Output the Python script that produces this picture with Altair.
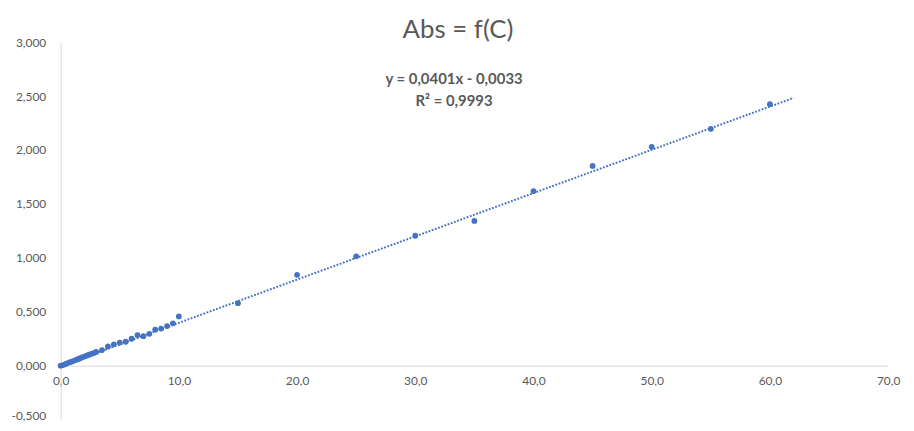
import altair as alt
import pandas as pd

# Concentration (x) and absorbance (y)
CONC = [0.0, 0.2, 0.4, 0.6, 0.8, 1.0, 1.2, 1.4, 1.6, 1.8, 2.0, 2.2, 2.4, 2.6, 2.8,
        3.0, 3.5, 4.0, 4.5, 5.0, 5.5, 6.0, 6.5, 7.0, 7.5, 8.0, 8.5, 9.0, 9.5, 10.0,
        15.0, 20.0, 25.0, 30.0, 35.0, 40.0, 45.0, 50.0, 55.0, 60.0]
ABS = [0.000, 0.006, 0.015, 0.024, 0.033, 0.041, 0.050, 0.058, 0.067, 0.076,
       0.085, 0.093, 0.102, 0.110, 0.117, 0.128, 0.145, 0.178, 0.198, 0.215,
       0.222, 0.250, 0.284, 0.274, 0.296, 0.334, 0.344, 0.368, 0.393, 0.457,
       0.580, 0.843, 1.014, 1.205, 1.342, 1.619, 1.852, 2.030, 2.196, 2.425]

# Linear trendline end points (y = 0,0401x - 0,0033), drawn from 0 to 62
TREND_X = [0.0, 62.0]
TREND_Y = [-0.0033, 2.4829]

X_TICKS = [0, 10, 20, 30, 40, 50, 60, 70]
Y_TICKS = [-0.5, 0.0, 0.5, 1.0, 1.5, 2.0, 2.5, 3.0]

TITLE = "Abs = f(C)"
EQ_LINE1 = "y = 0,0401x - 0,0033"
EQ_LINE2 = "R² = 0,9993"

BLUE = "#4472C4"
GREY_TXT = "#595959"
GREY_LINE = "#d9d9d9"
FONT = "Lato"

pts = pd.DataFrame({"C": CONC, "Abs": ABS})
trend = pd.DataFrame({"C": TREND_X, "Abs": TREND_Y})

x_enc = alt.X(
    "C:Q",
    scale=alt.Scale(domain=[0, 70], nice=False, zero=False),
    axis=alt.Axis(
        values=X_TICKS, title=None, grid=False, ticks=False,
        domainColor=GREY_LINE, domainWidth=1, offset=-54.29,
        labelExpr="replace(format(datum.value, '.1f'), '.', ',')",
        labelColor=GREY_TXT, labelFont=FONT, labelFontSize=12,
        labelPadding=10, labelFlush=False, labelOverlap=False,
    ),
)
y_enc = alt.Y(
    "Abs:Q",
    scale=alt.Scale(domain=[-0.5, 3.0], nice=False, zero=False),
    axis=alt.Axis(
        values=Y_TICKS, title=None, grid=False, ticks=False,
        domainColor=GREY_LINE, domainWidth=1,
        labelExpr="replace(replace(format(datum.value, '.3f'), '.', ','), '\u2212', '-')",
        labelColor=GREY_TXT, labelFont=FONT, labelFontSize=12,
        labelOffset={"condition": {"test": "datum.value < 0", "value": -4}, "value": 0},
        labelPadding=15, labelFlush=False, labelOverlap=False,
    ),
)

trend_layer = alt.Chart(trend).mark_line(
    color=BLUE, strokeWidth=2, strokeDash=[1.8, 1.6]
).encode(x=x_enc, y=y_enc)

point_layer = alt.Chart(pts).mark_circle(
    color=BLUE, size=34, opacity=1
).encode(x=x_enc, y=y_enc)

one = pd.DataFrame({"k": [0]})
title_layer = alt.Chart(one).mark_text(
    text=TITLE, font=FONT, fontSize=26, fontWeight="normal",
    color=GREY_TXT, align="center", baseline="alphabetic",
).encode(x=alt.value(400), y=alt.value(-4))
eq1 = alt.Chart(one).mark_text(
    text=EQ_LINE1, font=FONT, fontSize=15, fontWeight="bold",
    color=GREY_TXT, align="center", baseline="middle",
).encode(x=alt.value(396), y=alt.value(37))
eq2 = alt.Chart(one).mark_text(
    text=EQ_LINE2, font=FONT, fontSize=15, fontWeight="bold",
    color=GREY_TXT, align="center", baseline="middle",
).encode(x=alt.value(396), y=alt.value(59))

chart = alt.layer(trend_layer, point_layer, title_layer, eq1, eq2).properties(
    width=833,
    height=380,
    autosize=alt.AutoSizeParams(type="none"),
    padding={"left": 53, "top": 33, "right": 18, "bottom": 2},
).configure_view(stroke=None)

chart.save("out.html", embed_options={"renderer": "svg", "actions": False})
